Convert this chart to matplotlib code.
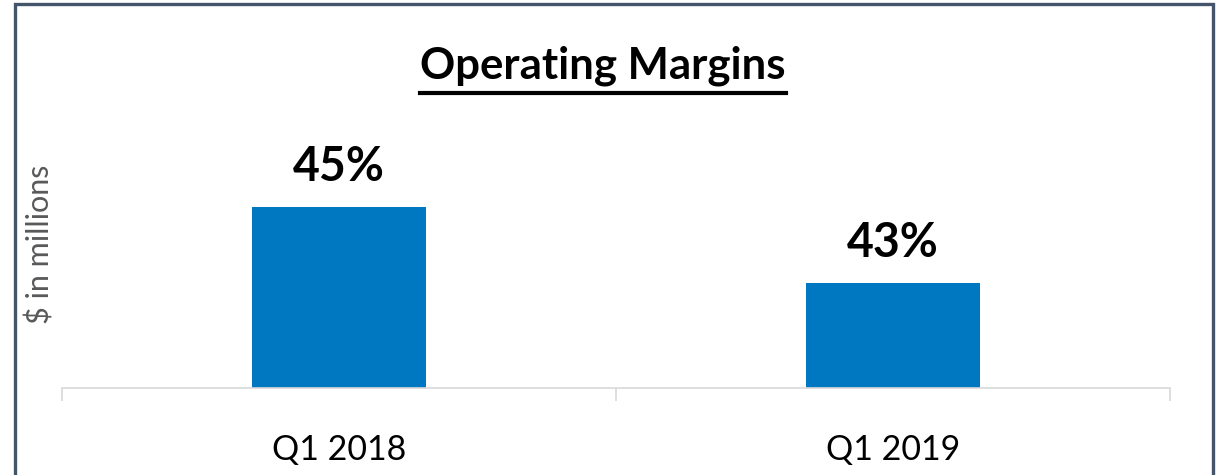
import matplotlib
matplotlib.use("Agg")
import matplotlib.pyplot as plt
from matplotlib.patches import Rectangle
from matplotlib.lines import Line2D

categories = ["Q1 2018", "Q1 2019"]
margins = [45, 43]
bar_labels = ["45%", "43%"]

plt.rcParams["font.family"] = ["Lato", "DejaVu Sans"]

W, H = 1223, 475
fig = plt.figure(figsize=(W / 100, H / 100), dpi=100)
ax = fig.add_axes([62 / W, 87 / H, (1170 - 62) / W, 288 / H])

x = list(range(len(categories)))
ax.bar(x, margins, width=0.315, color="#0078C1", zorder=2)
ax.set_xlim(-0.5, len(categories) - 0.5)
ax.set_ylim(40.24, 47.82)

for xi, v, lab in zip(x, margins, bar_labels):
    ax.annotate(lab, (xi, v), xytext=(0, 19), textcoords="offset points",
                ha="center", va="baseline", fontsize=33.5, fontweight="bold",
                color="black")

for s in ["top", "right", "left"]:
    ax.spines[s].set_visible(False)
ax.spines["bottom"].set_color("#D9D9D9")
ax.spines["bottom"].set_linewidth(1.2)
ax.set_yticks([])
ax.set_xticks([-0.5, 0.5, 1.5], minor=True)
ax.set_xticks(x)
ax.set_xticklabels(categories, fontsize=24.5)
ax.tick_params(axis="x", which="major", length=0, pad=33)
ax.tick_params(axis="x", which="minor", length=9, width=1.2, color="#D9D9D9")
ax.set_ylabel("$ in millions", fontsize=22, color="#595959")
ax.yaxis.set_label_coords(-(62 - 40) / (1170 - 62), 0.5)
ax.yaxis.label.set_va("center")

title = fig.text(603 / W, 1 - 79 / H, "Operating Margins", ha="center",
                 va="baseline", fontsize=31.5, fontweight="bold")

# underline title
fig.canvas.draw()
bb = title.get_window_extent(fig.canvas.get_renderer())
uy = (H - 93) / H
fig.add_artist(Line2D([bb.x0 / W, bb.x1 / W], [uy, uy],
                      transform=fig.transFigure, color="black", lw=3))

# outer frame
fig.add_artist(Rectangle((15 / W, -0.1), (1213 - 15) / W, 1.1 - 4 / H,
                         transform=fig.transFigure, fill=False,
                         edgecolor="#44546A", lw=2.4))

fig.savefig("out.png", dpi=100)
